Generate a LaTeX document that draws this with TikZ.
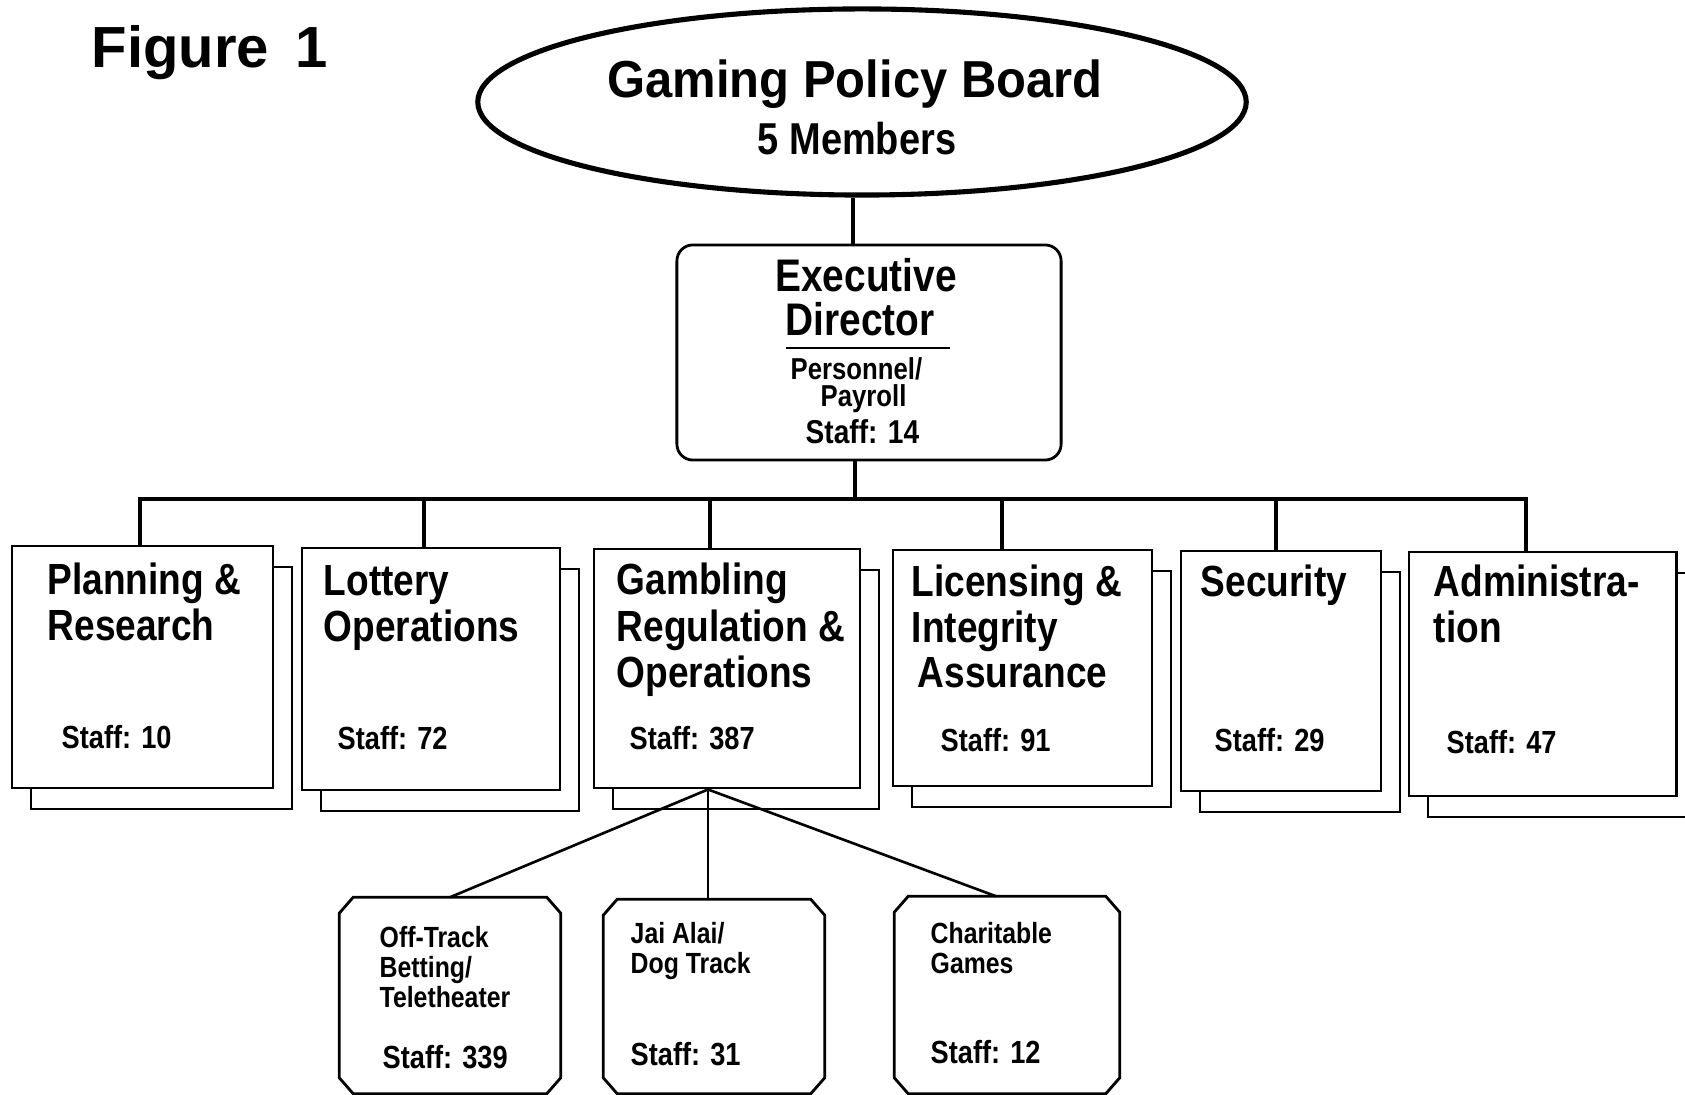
\documentclass[tikz,border=0pt]{standalone}
\usepackage{fontspec}
\setmainfont{Liberation Sans}
\newfontfamily\cond{Liberation Sans}[FakeStretch=0.85]
\newfontfamily\semicond{Liberation Sans}[FakeStretch=0.94]
\usetikzlibrary{shapes.geometric}
\newcommand\octframe[1]{%
  \draw[subline] ([xshift=1.4mm]#1.north west) -- ([xshift=-1.4mm]#1.north east)
    -- ([yshift=-1.6mm]#1.north east) -- ([yshift=1.6mm]#1.south east)
    -- ([xshift=-1.4mm]#1.south east) -- ([xshift=1.4mm]#1.south west)
    -- ([yshift=1.6mm]#1.south west) -- ([yshift=-1.6mm]#1.north west) -- cycle;}
\begin{document}
\begin{tikzpicture}[x=0.01cm,y=-0.01cm,line join=miter,
  t/.style={inner sep=0pt,anchor=base west,text=black},
  tc/.style={inner sep=0pt,anchor=base,text=black},
  fig/.style={t,font=\bfseries\fontsize{16.5pt}{18pt}\selectfont},
  ttl/.style={tc,font=\semicond\bfseries\fontsize{14.8pt}{17pt}\selectfont},
  mem/.style={tc,font=\cond\bfseries\fontsize{12.7pt}{14pt}\selectfont},
  exe/.style={tc,font=\cond\bfseries\fontsize{13pt}{15pt}\selectfont},
  pers/.style={t,font=\cond\bfseries\fontsize{8.6pt}{10pt}\selectfont},
  estaff/.style={t,font=\cond\bfseries\fontsize{9.4pt}{11pt}\selectfont},
  head/.style={t,font=\cond\bfseries\fontsize{12.4pt}{14pt}\selectfont},
  staff/.style={t,font=\cond\bfseries\fontsize{9.1pt}{11pt}\selectfont},
  sub/.style={t,font=\cond\bfseries\fontsize{8.3pt}{10pt}\selectfont},
  board/.style={ellipse,draw,line width=1.45pt,minimum width=76.8mm,minimum height=18.6mm,inner sep=0pt},
  exec/.style={rectangle,draw,rounded corners=1.6mm,line width=0.8pt,minimum width=38.4mm,minimum height=21.5mm,inner sep=0pt},
  unit/.style={rectangle,draw,fill=white,line width=0.8pt,inner sep=0pt},
  subnode/.style={rectangle,inner sep=0pt},
  subline/.style={line width=0.8pt},
  drop/.style={line width=1.3pt},
  thin/.style={line width=0.75pt}]
\useasboundingbox (0,0) rectangle (1685,1095);
\clip (0,0) rectangle (1685,1095);
\fill[white] (0,0) rectangle (1685,1095);

% title
\node[fig] (fig) at (91,68) {Figure\hspace{0.45em}1};

% board
\node[board] (B) at (862,102) {};
\node[ttl] (Bt) at (855,98) {Gaming Policy Board};
\node[mem] (Bm) at (857,155) {5 Members};

% executive director
\node[exec] (E) at (869,352.5) {};
\node[exe] (E1) at (866,292) {Executive};
\node[exe] (E2) at (860,336) {Director};
\coordinate (ul1) at (786,348);
\coordinate (ul2) at (950,348);
\draw[line width=0.7pt] (ul1) -- (ul2);
\node[pers] (E3) at (790,380) {Personnel/};
\node[pers] (E4) at (820,407) {Payroll};
\node[estaff] (E5) at (805,444) {Staff: 14};

% shadows
\node[unit,minimum width=26.1mm,minimum height=24.2mm] (Ps) at (161.5,688) {};
\node[unit,minimum width=25.8mm,minimum height=24.2mm] (Ls) at (450,690) {};
\node[unit,minimum width=26.6mm,minimum height=23.9mm] (Gs) at (746,689.5) {};
\node[unit,minimum width=25.9mm,minimum height=23.6mm] (Lis) at (1041.5,689) {};
\node[unit,minimum width=20.0mm,minimum height=24.0mm] (Ss) at (1300,692) {};
\node[unit,minimum width=26.7mm,minimum height=24.4mm] (As) at (1561.5,695) {};
% front boxes
\node[unit,minimum width=26.1mm,minimum height=24.2mm] (P) at (142.5,667) {};
\node[unit,minimum width=25.8mm,minimum height=24.2mm] (L) at (431,669) {};
\node[unit,minimum width=26.6mm,minimum height=23.9mm] (G) at (727,668.5) {};
\node[unit,minimum width=25.9mm,minimum height=23.6mm] (Li) at (1022.5,668) {};
\node[unit,minimum width=20.0mm,minimum height=24.0mm] (S) at (1281,671) {};
\node[unit,minimum width=26.7mm,minimum height=24.4mm] (A) at (1542.5,674) {};

% texts of units
\node[head] (P1) at (47,595) {Planning \&};
\node[head] (P2) at (47,641) {Research};
\node[staff] (P3) at (61,749) {Staff: 10};
\node[head] (L1) at (323,596) {Lottery};
\node[head] (L2) at (323,642) {Operations};
\node[staff] (L3) at (337,750) {Staff: 72};
\node[head] (G1) at (616,595) {Gambling};
\node[head] (G2) at (616,642) {Regulation \&};
\node[head] (G3) at (616,688) {Operations};
\node[staff] (G4) at (629,750) {Staff: 387};
\node[head] (Li1) at (911,597) {Licensing \&};
\node[head] (Li2) at (911,643) {Integrity};
\node[head] (Li3) at (917,688) {Assurance};
\node[staff] (Li4) at (940,752) {Staff: 91};
\node[head] (S1) at (1200,597) {Security};
\node[staff] (S2) at (1214,752) {Staff: 29};
\node[head] (A1) at (1433,597) {Administra-};
\node[head] (A2) at (1433,643) {tion};
\node[staff] (A3) at (1446,754) {Staff: 47};

% sub units
\node[subnode,minimum width=22.0mm,minimum height=19.5mm] (OT) at (450,995.5) {};
\node[subnode,minimum width=22.0mm,minimum height=19.3mm] (J) at (714,996.5) {};
\node[subnode,minimum width=22.4mm,minimum height=19.6mm] (C) at (1007,995) {};
\octframe{OT}
\octframe{J}
\octframe{C}
\node[sub] (OT1) at (379,947) {Off-Track};
\node[sub] (OT2) at (379,977) {Betting/};
\node[sub] (OT3) at (379,1008) {Teletheater};
\node[staff] (OT4) at (382,1068) {Staff: 339};
\node[sub] (J1) at (630,943) {Jai Alai/};
\node[sub] (J2) at (630,973) {Dog Track};
\node[staff] (J3) at (630,1065) {Staff: 31};
\node[sub] (C1) at (930,943) {Charitable};
\node[sub] (C2) at (930,973) {Games};
\node[staff] (C3) at (930,1063) {Staff: 12};

% connectors
\coordinate (bx) at (853,0);
\draw[drop,line width=1.15pt] (bx |- B.south) -- (bx |- E.north);
\coordinate (d0) at (855,499);
\draw[drop] (d0 |- E.south) -- (d0);
\coordinate (d1) at (140,499);
\coordinate (d2) at (424,499);
\coordinate (d3) at (710,499);
\coordinate (d4) at (1002,499);
\coordinate (d5) at (1276,499);
\coordinate (d6) at (1526,499);
\draw[drop,line cap=rect] (d1) -- (d6);
\draw[drop] (d1) -- (d1 |- P.north);
\draw[drop] (d2) -- (d2 |- L.north);
\draw[drop] (d3) -- (d3 |- G.north);
\draw[drop] (d4) -- (d4 |- Li.north);
\draw[drop] (d5) -- (d5 |- S.north);
\draw[drop] (d6) -- (d6 |- A.north);

\coordinate (gb) at ([xshift=-1.9mm]G.south);
\draw[thin] (gb) -- (OT.north);
\draw[thin] (gb) -- (gb |- J.north);
\draw[thin] (gb) -- ([xshift=-1.1mm]C.north);
\end{tikzpicture}
\end{document}
